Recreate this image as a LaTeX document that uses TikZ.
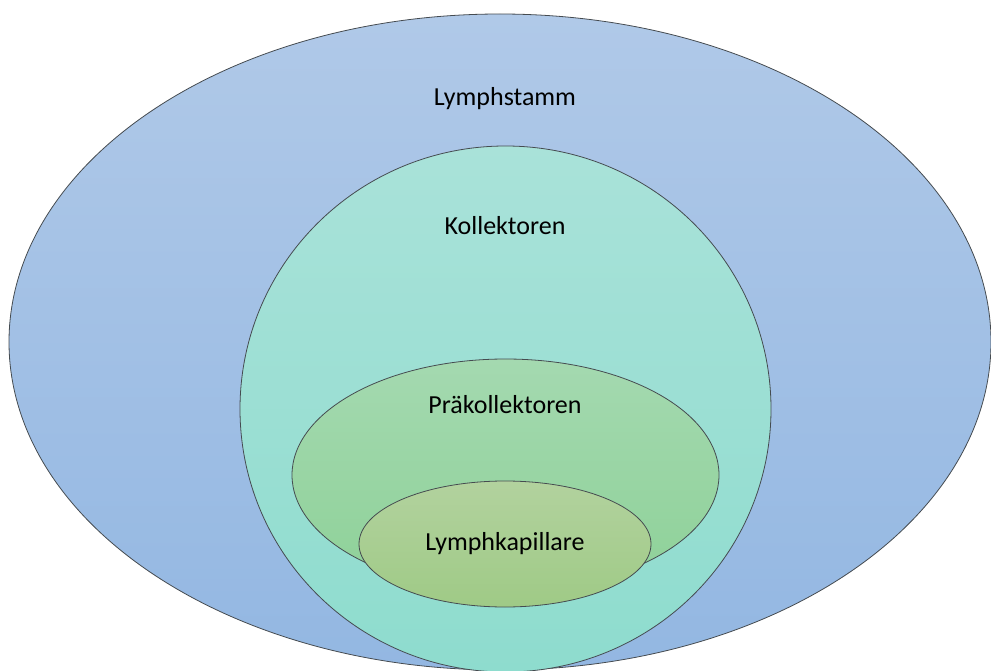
\documentclass[tikz,border=0pt]{standalone}
\usepackage{fontspec}
\setmainfont{Carlito}
\usetikzlibrary{shapes.geometric}
\definecolor{outerTop}{HTML}{B0C9E8}
\definecolor{outerBot}{HTML}{93B7E2}
\definecolor{kolTop}{HTML}{A9E2D9}
\definecolor{kolBot}{HTML}{8EDCCE}
\definecolor{praTop}{HTML}{A4D9B0}
\definecolor{praBot}{HTML}{8ED198}
\definecolor{kapTop}{HTML}{B2D29E}
\definecolor{kapBot}{HTML}{9FCA86}
\definecolor{edge}{HTML}{454B50}
\tikzset{
  blob/.style={ellipse, draw=edge, line width=0.8pt, inner sep=0pt},
  lbl/.style={font=\fontsize{26}{30}\selectfont, text=black, inner sep=0pt, anchor=center}
}
\begin{document}
\begin{tikzpicture}[x=1pt,y=-1pt]
\useasboundingbox (0,0) rectangle (991,671);
\clip (0,0) rectangle (991,671);
\node[blob, top color=outerTop, bottom color=outerBot, minimum width=982, minimum height=656] (stamm) at (500,342) {};
\node[blob, top color=kolTop, bottom color=kolBot, minimum width=531, minimum height=526] (kol) at (505.5,409) {};
\node[blob, top color=praTop, bottom color=praBot, minimum width=427, minimum height=232] (pra) at (505.5,475) {};
\node[blob, top color=kapTop, bottom color=kapBot, minimum width=292, minimum height=126] (kap) at (505,544) {};
\node[lbl] (tstamm) at (505,99) {Lymphstamm};
\node[lbl] (tkol) at (505,226) {Kollektoren};
\node[lbl] (tpra) at (505,405) {Präkollektoren};
\node[lbl] (tkap) at (505,544) {Lymphkapillare};
\end{tikzpicture}
\end{document}
